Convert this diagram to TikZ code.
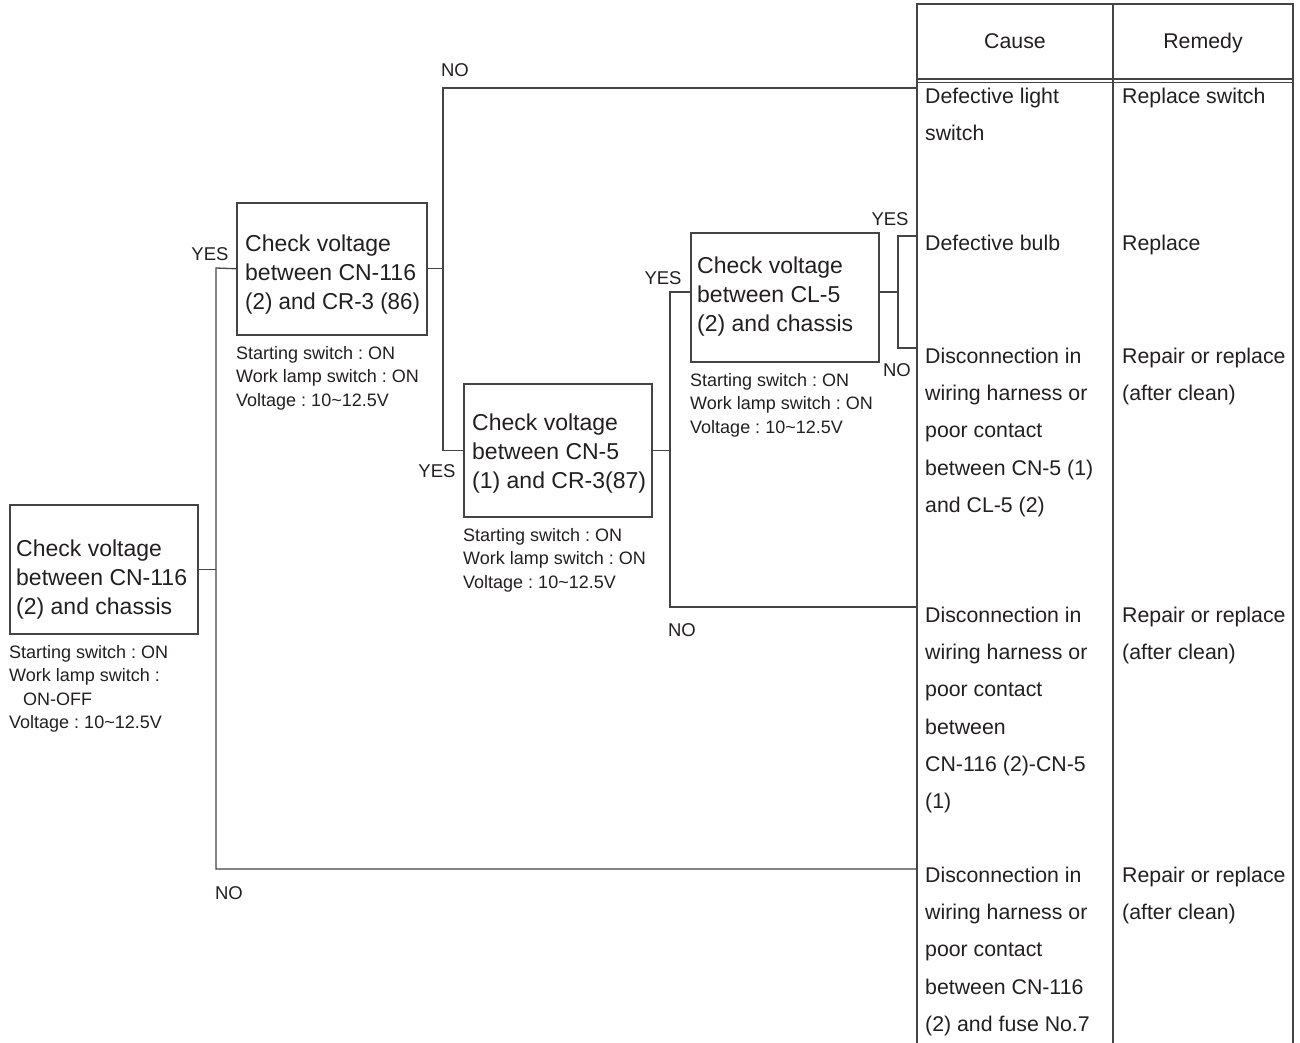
\documentclass[tikz,border=0pt]{standalone}
\usepackage{fontspec}
\setmainfont{Liberation Sans}
\definecolor{txt}{HTML}{231F20}
\definecolor{linec}{HTML}{444444}
\begin{document}
\frenchspacing
\begin{tikzpicture}[x=1pt,y=-1pt,
  box/.style={draw=linec, line width=1.5pt, anchor=north west, inner sep=0pt},
  btext/.style={anchor=north west, inner sep=0pt, align=left, text=txt, font=\fontsize{23}{29}\selectfont},
  note/.style={anchor=north west, inner sep=0pt, align=left, text=txt, font=\fontsize{18}{23.5}\selectfont},
  lab/.style={anchor=base, inner sep=0pt, text=txt, font=\fontsize{18.5}{20}\selectfont},
  ttext/.style={anchor=north west, inner sep=0pt, align=left, text=txt, font=\fontsize{21.3}{37.3}\selectfont},
  thead/.style={anchor=base, inner sep=0pt, text=txt, font=\fontsize{21.3}{25}\selectfont},
  conn/.style={draw=linec, line width=1.3pt},
  tline/.style={draw=linec, line width=1.5pt}]
\useasboundingbox (0,0) rectangle (1300,1043);

% ---- table ----
\coordinate (tl) at (917,4);
\coordinate (tr) at (1293,4);
\coordinate (tm) at (1113,4);
\coordinate (bl) at (917,1043);
\coordinate (br) at (1293,1043);
\coordinate (bm) at (1113,1043);
\draw[tline] (bl) -- (tl) -- (tr) -- (br);
\draw[tline] (tm) -- (bm);
\draw[tline] (917,79) -- (1293,79);
\draw[tline] (917,82.5) -- (1293,82.5);
\node[thead] (hc) at (1015,49) {Cause};
\node[thead] (hr) at (1203,49) {Remedy};

\node[ttext] (c1) at (925,87.5) {Defective light\\switch};
\node[ttext] (r1) at (1122,87.5) {Replace switch};
\node[ttext] (c2) at (925,234.5) {Defective bulb};
\node[ttext] (r2) at (1122,234.5) {Replace};
\node[ttext] (c3) at (925,347.5) {Disconnection in\\wiring harness or\\poor contact\\between CN-5 (1)\\and CL-5 (2)};
\node[ttext] (r3) at (1122,347.5) {Repair or replace\\(after clean)};
\node[ttext] (c4) at (925,606.5) {Disconnection in\\wiring harness or\\poor contact\\between\\CN-116 (2)-CN-5\\(1)};
\node[ttext] (r4) at (1122,606.5) {Repair or replace\\(after clean)};
\node[ttext] (c5) at (925,866.5) {Disconnection in\\wiring harness or\\poor contact\\between CN-116\\(2) and fuse No.7};
\node[ttext] (r5) at (1122,866.5) {Repair or replace\\(after clean)};

\coordinate (t1) at (917,88);
\coordinate (t2) at (917,236);
\coordinate (t3) at (917,348);
\coordinate (t4) at (917,607);
\coordinate (t5) at (917,869);

% ---- boxes ----
\node[box, minimum width=188pt, minimum height=129pt] (b1) at (9,504) {};
\node[btext] (b1t) at (16,539.2) {Check voltage\\between CN-116\\(2) and chassis};
\node[note] (b1n) at (9,645) {Starting switch : ON\\Work lamp switch :\\\hspace*{14pt}ON-OFF\\Voltage : 10\textasciitilde12.5V};

\node[box, minimum width=190pt, minimum height=132pt] (b2) at (236,202) {};
\node[btext] (b2t) at (245,234.2) {Check voltage\\between CN-116\\{\addfontfeature{FakeStretch=0.97}(2) and CR-3 (86)}};
\node[note] (b2n) at (236,346) {Starting switch : ON\\Work lamp switch : ON\\Voltage : 10\textasciitilde12.5V};

\node[box, minimum width=188pt, minimum height=133pt] (b3) at (463,383) {};
\node[btext] (b3t) at (472,413.2) {Check voltage\\between CN-5\\(1) and CR-3(87)};
\node[note] (b3n) at (463,528) {Starting switch : ON\\Work lamp switch : ON\\Voltage : 10\textasciitilde12.5V};

\node[box, minimum width=188pt, minimum height=129pt] (b4) at (690,232) {};
\node[btext] (b4t) at (697,256.2) {Check voltage\\between CL-5\\(2) and chassis};
\node[note] (b4n) at (690,373) {Starting switch : ON\\Work lamp switch : ON\\Voltage : 10\textasciitilde12.5V};

% ---- junction coordinates ----
\coordinate (s1) at (216,268);
\coordinate (s2) at (443,268);
\coordinate (s4) at (898,292);
\coordinate (s5) at (670,292);

% ---- connectors ----
\draw[conn] (b1.east) -- (b1.east -| s1);
\draw[conn] (b2.west) -- (s1) |- (t5);
\draw[conn] (b2.east) -- (b2.east -| s2);
\draw[conn] (b3.west) -| (s2) |- (t1);
\draw[conn] (b3.east) -- (b3.east -| s5);
\draw[conn] (b4.west |- s5) -- (s5) |- (t4);
\draw[conn] (b4.east |- s4) -- (s4);
\draw[conn] (t2) -| (s4) |- (t3);

% ---- labels ----
\node[lab] (l1) at (455,76.5) {NO};
\node[lab] (l2) at (210,260) {YES};
\node[lab] (l3) at (437,477) {YES};
\node[lab] (l4) at (663,284) {YES};
\node[lab] (l5) at (890,225) {YES};
\node[lab] (l6) at (897,376) {NO};
\node[lab] (l7) at (682,636) {NO};
\node[lab] (l8) at (229,899) {NO};
\end{tikzpicture}
\end{document}
